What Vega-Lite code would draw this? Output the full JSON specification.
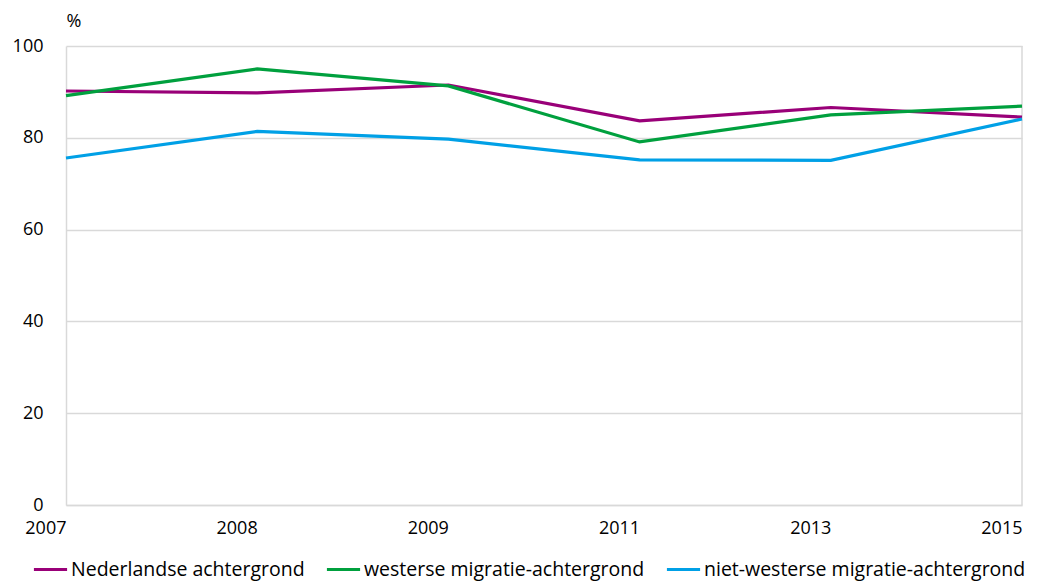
{
  "$schema": "https://vega.github.io/schema/vega-lite/v6.json",
  "width": 956,
  "height": 459,
  "autosize": "none",
  "padding": {"left": 66, "top": 46, "right": 37, "bottom": 77},
  "background": "white",
  "config": {
    "font": "Open Sans",
    "view": {"stroke": null},
    "axis": {"labelFont": "Open Sans", "labelFontSize": 18, "labelColor": "#000000"}
  },
  "data": {
    "values": [
      {"jaar": "2007", "groep": "Nederlandse achtergrond", "pct": 90.2},
      {"jaar": "2008", "groep": "Nederlandse achtergrond", "pct": 89.8},
      {"jaar": "2009", "groep": "Nederlandse achtergrond", "pct": 91.5},
      {"jaar": "2011", "groep": "Nederlandse achtergrond", "pct": 83.7},
      {"jaar": "2013", "groep": "Nederlandse achtergrond", "pct": 86.6},
      {"jaar": "2015", "groep": "Nederlandse achtergrond", "pct": 84.5},
      {"jaar": "2007", "groep": "westerse migratie-achtergrond", "pct": 89.2},
      {"jaar": "2008", "groep": "westerse migratie-achtergrond", "pct": 95.0},
      {"jaar": "2009", "groep": "westerse migratie-achtergrond", "pct": 91.3},
      {"jaar": "2011", "groep": "westerse migratie-achtergrond", "pct": 79.1},
      {"jaar": "2013", "groep": "westerse migratie-achtergrond", "pct": 85.0},
      {"jaar": "2015", "groep": "westerse migratie-achtergrond", "pct": 86.9},
      {"jaar": "2007", "groep": "niet-westerse migratie-achtergrond", "pct": 75.6},
      {"jaar": "2008", "groep": "niet-westerse migratie-achtergrond", "pct": 81.4},
      {"jaar": "2009", "groep": "niet-westerse migratie-achtergrond", "pct": 79.7},
      {"jaar": "2011", "groep": "niet-westerse migratie-achtergrond", "pct": 75.2},
      {"jaar": "2013", "groep": "niet-westerse migratie-achtergrond", "pct": 75.1},
      {"jaar": "2015", "groep": "niet-westerse migratie-achtergrond", "pct": 84.1}
    ]
  },
  "layer": [
    {
      "mark": {"type": "rule", "color": "#d9d9d9", "strokeWidth": 1.5},
      "data": {"values": [{"jaar": "2015"}]},
      "encoding": {
        "x": {"field": "jaar", "type": "ordinal", "scale": {"type": "point", "padding": 0}}
      }
    },
    {
      "mark": {"type": "line", "strokeWidth": 3.2},
      "encoding": {
        "x": {
          "field": "jaar",
          "type": "ordinal",
          "scale": {"type": "point", "padding": 0},
          "axis": {
            "title": null,
            "labelAngle": 0,
            "ticks": false,
            "domainColor": "#d9d9d9",
            "domainWidth": 1.5,
            "labelPadding": 23,
            "grid": false
          }
        },
        "y": {
          "field": "pct",
          "type": "quantitative",
          "scale": {"domain": [0, 100], "nice": false},
          "axis": {
            "title": "%",
            "titleAngle": 0,
            "titleAlign": "left",
            "titleBaseline": "bottom",
            "titleX": 0,
            "titleY": -16,
            "titleFont": "Open Sans",
            "titleFontSize": 18,
            "titleFontWeight": "normal",
            "values": [0, 20, 40, 60, 80, 100],
            "ticks": false,
            "domain": true,
            "domainColor": "#d9d9d9",
            "domainWidth": 1.5,
            "gridColor": "#d9d9d9",
            "gridWidth": 1.5,
            "labelPadding": 23
          }
        },
        "color": {
          "field": "groep",
          "type": "nominal",
          "sort": ["Nederlandse achtergrond", "westerse migratie-achtergrond", "niet-westerse migratie-achtergrond"],
          "scale": {
            "domain": ["Nederlandse achtergrond", "westerse migratie-achtergrond", "niet-westerse migratie-achtergrond"],
            "range": ["#990078", "#00a03e", "#00a0e6"]
          },
          "legend": {
            "title": null,
            "orient": "none",
            "direction": "horizontal",
            "legendX": -34,
            "legendY": 505,
            "symbolType": "stroke",
            "symbolSize": 1100,
            "symbolStrokeWidth": 3.2,
            "labelFont": "Open Sans",
            "labelFontSize": 19.5,
            "labelColor": "#000000",
            "labelOffset": 2,
            "columnPadding": 15,
            "labelLimit": 400
          }
        }
      }
    }
  ]
}
